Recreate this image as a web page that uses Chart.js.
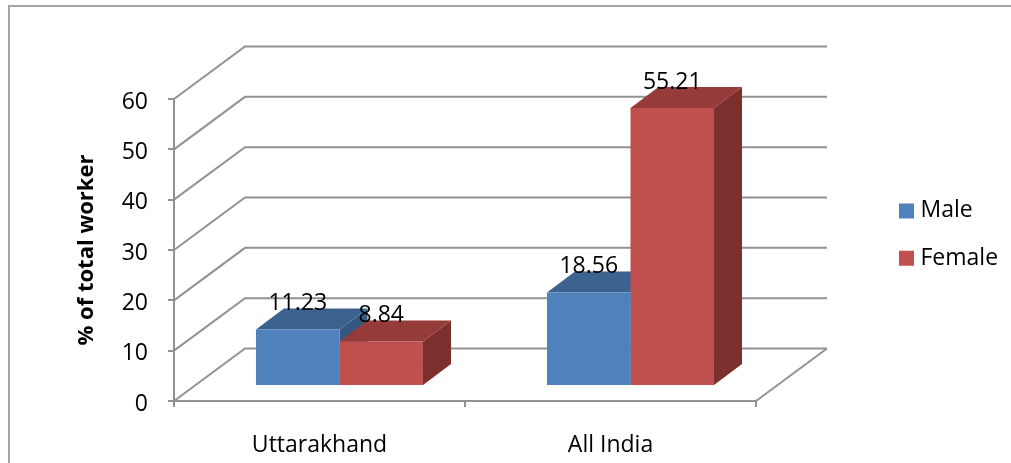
<!DOCTYPE html>
<html><head><meta charset="utf-8">
<script src="https://cdn.jsdelivr.net/npm/chart.js@4"></script>
<style>html,body{margin:0;padding:0;background:#fff}canvas{display:block}</style>
</head><body><canvas id="c" width="1011" height="463"></canvas>
<script>
const categories = ["Uttarakhand", "All India"];
const seriesNames = ["Male", "Female"];
const maleValues = [11.23, 18.56];
const femaleValues = [8.84, 55.21];
const valueLabels = [["11.23", "18.56"], ["8.84", "55.21"]];
const frontColors = ["#4f81bd", "#c0504d"];
const topColors = ["#3c628f", "#953b39"];
const sideColors = ["#355780", "#7b302e"];
const AXIS = "#929292";
const FONT = "'Open Sans'";
const WALL = {dx: 71, dy: -52.5};
const BAR_SHIFT = {dx: 20, dy: -15};
const BAR_DEPTH = {dx: 28, dy: -21};

function poly(ctx, pts, fill) {
  ctx.beginPath();
  pts.forEach((p, i) => i ? ctx.lineTo(p[0], p[1]) : ctx.moveTo(p[0], p[1]));
  ctx.closePath();
  ctx.fillStyle = fill;
  ctx.fill();
}
const plugin3d = {
  id: "plugin3d",
  afterLayout(chart) {
    const l = chart.legend;
    l.left = 883.6 - 4; l.right = 1011; l.top = 175; l.bottom = 300;
  },
  beforeDraw(chart) {
    const ctx = chart.ctx;
    ctx.save();
    ctx.strokeStyle = "#a3a3a3";
    ctx.lineWidth = 2;
    ctx.beginPath();
    ctx.moveTo(9, 463); ctx.lineTo(9, 6); ctx.lineTo(1011, 6);
    ctx.stroke();
    ctx.restore();
  },
  beforeDatasetsDraw(chart) {
    const ctx = chart.ctx, {x, y} = chart.scales;
    const L = x.left, R = x.right;
    ctx.save();
    ctx.strokeStyle = AXIS;
    ctx.lineWidth = 2;
    y.ticks.forEach(t => {
      const py = y.getPixelForValue(t.value);
      ctx.beginPath();
      ctx.moveTo(L, py);
      ctx.lineTo(L + WALL.dx, py + WALL.dy);
      ctx.lineTo(R + WALL.dx, py + WALL.dy);
      ctx.stroke();
    });
    const py0 = y.getPixelForValue(0);
    ctx.beginPath();
    ctx.moveTo(R, py0);
    ctx.lineTo(R + WALL.dx, py0 + WALL.dy);
    ctx.stroke();
    // bar depth faces, positioned from the library's bar elements
    ctx.translate(BAR_SHIFT.dx, BAR_SHIFT.dy);
    [0, 1].forEach(d => {
      chart.getDatasetMeta(d).data.forEach(b => {
        const p = b.getProps(["x", "y", "base", "width"]);
        const l = p.x - p.width / 2, r = p.x + p.width / 2;
        const D = BAR_DEPTH;
        poly(ctx, [[r, p.y], [r + D.dx, p.y + D.dy], [r + D.dx, p.base + D.dy], [r, p.base]], sideColors[d]);
        poly(ctx, [[l, p.y], [l + D.dx, p.y + D.dy], [r + D.dx, p.y + D.dy], [r, p.y]], topColors[d]);
      });
    });
    ctx.restore();
    ctx.save();
    ctx.translate(BAR_SHIFT.dx, BAR_SHIFT.dy);
  },
  afterDatasetsDraw(chart) {
    const ctx = chart.ctx;
    ctx.restore();
    ctx.save();
    ctx.fillStyle = "#000";
    ctx.font = "23px " + FONT;
    ctx.textAlign = "center";
    ctx.textBaseline = "middle";
    [0, 1].forEach(d => {
      chart.getDatasetMeta(d).data.forEach((b, i) => {
        ctx.fillText(valueLabels[d][i], b.x + BAR_SHIFT.dx, b.y + BAR_SHIFT.dy - 26);
      });
    });
    ctx.restore();
  }
};

new Chart(document.getElementById("c"), {
  type: "bar",
  data: {
    labels: categories,
    datasets: [
      {label: seriesNames[0], data: maleValues, backgroundColor: frontColors[0], clip: false},
      {label: seriesNames[1], data: femaleValues, backgroundColor: frontColors[1], clip: false}
    ]
  },
  options: {
    responsive: false,
    animation: false,
    layout: {padding: {top: 99, right: 255, left: 0, bottom: 0}},
    categoryPercentage: 0.574,
    barPercentage: 1,
    plugins: {
      tooltip: {enabled: false},
      legend: {
        position: "chartArea",
        align: "start",
        labels: {
          usePointStyle: true, pointStyle: "rect",
          boxWidth: 5, boxHeight: 15, padding: 24.4, color: "#000",
          font: {family: FONT, size: 23, lineHeight: 1.2}
        }
      }
    },
    scales: {
      x: {
        afterFit(s) { s.height = 62; },
        grid: {drawOnChartArea: false, drawTicks: true, tickLength: 6, color: AXIS, lineWidth: 2},
        border: {color: AXIS, width: 2},
        ticks: {color: "#000", padding: 25, font: {family: FONT, size: 23}, maxRotation: 0}
      },
      y: {
        min: 0, max: 60,
        afterFit(s) { s.width = 174; },
        grid: {drawOnChartArea: false, drawTicks: true, tickLength: 6, color: AXIS, lineWidth: 2},
        border: {color: AXIS, width: 2},
        ticks: {color: "#000", stepSize: 10, padding: 20, labelOffset: 3, font: {family: FONT, size: 23}},
        title: {
          display: true, text: "% of total worker", color: "#000",
          font: {family: FONT, size: 22, weight: "bold"},
          padding: {top: 74, bottom: 0}
        }
      }
    }
  },
  plugins: [plugin3d]
});
</script></body></html>
